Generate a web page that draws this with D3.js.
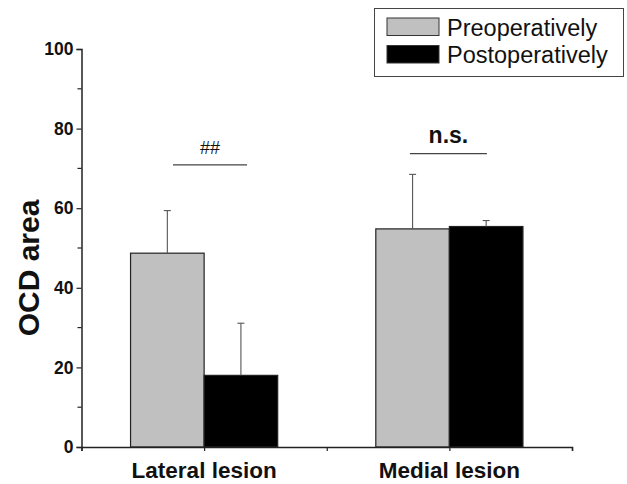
<!DOCTYPE html>
<html>
<head>
<meta charset="utf-8">
<script src="https://cdn.jsdelivr.net/npm/d3@7"></script>
<style>
  body { margin: 0; background: #fff; }
  svg { display: block; font-family: Arial, 'Liberation Sans', sans-serif; }
</style>
</head>
<body>
<svg id="chart" width="627" height="484"></svg>
<script>
// data
let categories = ['Lateral lesion', 'Medial lesion']
let series = ['Preoperatively', 'Postoperatively']
let preValues = [48.7, 54.8]
let preErrors = [10.7, 13.7]
let postValues = [18.0, 55.4]
let postErrors = [13.1, 1.5]
let yTicks = [0, 20, 40, 60, 80, 100]
let yMinorTicks = [10, 30, 50, 70, 90]
// significance marks: label, span in x units, level in y units
let sigLabels = ['##', 'n.s.']
let sigSpans = [[0.873, 1.175], [1.839, 2.153]]
let sigLevels = [70.9, 73.7]

let colors = ['#c0c0c0', '#000000']

let svg = d3.select('#chart')

let xScale = d3.scaleLinear().domain([0.5, 2.5]).range([81.5, 572])
let yScale = d3.scaleLinear().domain([0, 100]).range([447, 49])
let barW = 0.3

let bars = []
categories.forEach((c, i) => {
  bars.push({ cat: i + 1, s: 0, value: preValues[i], err: preErrors[i] })
  bars.push({ cat: i + 1, s: 1, value: postValues[i], err: postErrors[i] })
})

// bars
svg
  .selectAll('.bar')
  .data(bars)
  .enter()
  .append('rect')
  .attr('class', 'bar')
  .attr('x', d => xScale(d.s === 0 ? d.cat - barW : d.cat))
  .attr('width', d => xScale(d.cat + barW) - xScale(d.cat))
  .attr('y', d => yScale(d.value))
  .attr('height', d => yScale(0) - yScale(d.value))
  .attr('fill', d => colors[d.s])
  .attr('stroke', '#222')
  .attr('stroke-width', 1.2)

// error bars (upper only)
let errX = d => xScale(d.s === 0 ? d.cat - barW / 2 : d.cat + barW / 2)
svg
  .selectAll('.err')
  .data(bars)
  .enter()
  .append('line')
  .attr('x1', errX)
  .attr('x2', errX)
  .attr('y1', d => yScale(d.value))
  .attr('y2', d => yScale(d.value + d.err))
  .attr('stroke', '#555')
  .attr('stroke-width', 1.1)
svg
  .selectAll('.cap')
  .data(bars)
  .enter()
  .append('line')
  .attr('x1', d => errX(d) - 3.5)
  .attr('x2', d => errX(d) + 3.5)
  .attr('y1', d => yScale(d.value + d.err))
  .attr('y2', d => yScale(d.value + d.err))
  .attr('stroke', '#555')
  .attr('stroke-width', 1.1)

// y axis
let yAxis = svg
  .append('g')
  .attr('transform', `translate(${xScale(0.5)},0)`)
yAxis
  .call(d3.axisLeft(yScale).tickValues(yTicks).tickSize(5).tickPadding(3))
yAxis.select('.domain').attr('stroke', '#222').attr('stroke-width', 1.5)
yAxis.selectAll('.tick line').attr('stroke', '#222').attr('stroke-width', 1.2)
yAxis
  .selectAll('.tick text')
  .attr('font-size', 17.5)
  .attr('font-weight', 'bold')
  .attr('font-family', 'Arial, Liberation Sans, sans-serif')
  .attr('fill', '#111')
yAxis
  .selectAll('.minor')
  .data(yMinorTicks)
  .enter()
  .append('line')
  .attr('x1', -4)
  .attr('x2', 0)
  .attr('y1', d => yScale(d))
  .attr('y2', d => yScale(d))
  .attr('stroke', '#222')
  .attr('stroke-width', 1.2)

// x axis
let xAxis = svg
  .append('g')
  .attr('transform', `translate(0,${yScale(0)})`)
xAxis.call(
  d3.axisBottom(xScale).tickValues([0.5, 1, 1.5, 2, 2.5]).tickSize(4).tickFormat('')
)
xAxis.select('.domain').attr('stroke', '#222').attr('stroke-width', 1.5)
xAxis.selectAll('.tick line').attr('stroke', '#222').attr('stroke-width', 1.2)

svg
  .selectAll('.cat-label')
  .data(categories)
  .enter()
  .append('text')
  .text(d => d)
  .attr('x', (d, i) => xScale(i + 1))
  .attr('y', 478)
  .attr('text-anchor', 'middle')
  .attr('font-size', 22.5)
  .attr('font-weight', 'bold')
  .attr('fill', '#111')

// y axis title
svg
  .append('text')
  .text('OCD area')
  .attr('transform', 'translate(39,268) rotate(-90)')
  .attr('text-anchor', 'middle')
  .attr('font-size', 30)
  .attr('font-weight', 'bold')
  .attr('fill', '#111')

// significance marks
svg
  .selectAll('.sig-line')
  .data(sigLabels)
  .enter()
  .append('line')
  .attr('x1', (d, i) => xScale(sigSpans[i][0]))
  .attr('x2', (d, i) => xScale(sigSpans[i][1]))
  .attr('y1', (d, i) => yScale(sigLevels[i]))
  .attr('y2', (d, i) => yScale(sigLevels[i]))
  .attr('stroke', '#444')
  .attr('stroke-width', 1.2)
svg
  .selectAll('.sig-label')
  .data(sigLabels)
  .enter()
  .append('text')
  .text(d => d)
  .attr('x', (d, i) => xScale((sigSpans[i][0] + sigSpans[i][1]) / 2))
  .attr('y', (d, i) => yScale(sigLevels[i]) - 11)
  .attr('text-anchor', 'middle')
  .attr('font-size', (d, i) => (i === 0 ? 18 : 23))
  .attr('font-weight', (d, i) => (i === 0 ? 'normal' : 'bold'))
  .attr('fill', '#111')

// legend
let legend = svg.append('g')
legend
  .append('rect')
  .attr('x', 374.5)
  .attr('y', 8.5)
  .attr('width', 249)
  .attr('height', 68)
  .attr('fill', 'white')
  .attr('stroke', '#444')
  .attr('stroke-width', 1)
let legendItems = legend
  .selectAll('.legend-item')
  .data(series)
  .enter()
  .append('g')
  .attr('transform', (d, i) => `translate(387,${18 + i * 27.5})`)
legendItems
  .append('rect')
  .attr('width', 52)
  .attr('height', 17.5)
  .attr('fill', (d, i) => colors[i])
  .attr('stroke', '#333')
  .attr('stroke-width', 1)
legendItems
  .append('text')
  .text(d => d)
  .attr('x', 60)
  .attr('y', 17.5)
  .attr('font-size', 23.5)
  .attr('fill', '#111')
</script>
</body>
</html>
